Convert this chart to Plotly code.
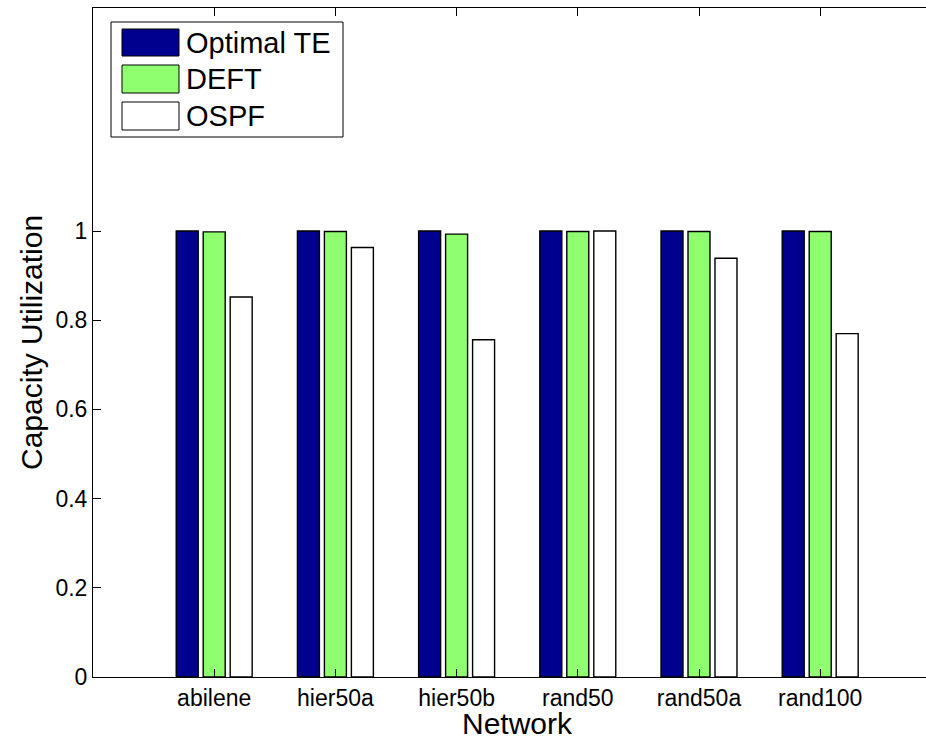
import plotly.graph_objects as go

networks = ["abilene", "hier50a", "hier50b", "rand50", "rand50a", "rand100"]
x_pos = [1, 2, 3, 4, 5, 6]
optimal_te = [1.0, 1.0, 1.0, 1.0, 1.0, 1.0]
deft = [0.998, 0.999, 0.993, 0.999, 0.999, 0.999]
ospf = [0.852, 0.963, 0.756, 1.0, 0.939, 0.770]
y_ticks = [0, 0.2, 0.4, 0.6, 0.8, 1]

series_names = ["Optimal TE", "DEFT", "OSPF"]
series_colors = ["rgb(0,0,143)", "rgb(143,255,112)", "rgb(255,255,255)"]

W, H = 926, 744
L, R, T, B = 93, 0, 8, 67
PW, PH = W - L - R, H - T - B
FONT = "Liberation Sans, Arial, Helvetica, sans-serif"

fig = go.Figure()
for name, vals, col in zip(series_names, [optimal_te, deft, ospf], series_colors):
    fig.add_trace(go.Bar(
        x=x_pos, y=vals, name=name, marker=dict(color=col, line=dict(color="black", width=1.4)),
        showlegend=False, hoverinfo="skip",
    ))

def px(xp):
    return (xp - L) / PW

def py(yp):
    return (H - B - yp) / PH

shapes = []
annotations = []
# legend box
shapes.append(dict(type="rect", xref="paper", yref="paper",
                   x0=px(111), x1=px(343), y0=py(137), y1=py(22),
                   line=dict(color="black", width=1), fillcolor="white", layer="above"))
sw_tops = [29, 65, 102]
sw_bottoms = [56, 93, 130]
for name, col, t0, b0 in zip(series_names, series_colors, sw_tops, sw_bottoms):
    shapes.append(dict(type="rect", xref="paper", yref="paper",
                       x0=px(122), x1=px(179), y0=py(b0), y1=py(t0),
                       line=dict(color="black", width=1), fillcolor=col, layer="above"))
    annotations.append(dict(text=name, xref="paper", yref="paper",
                            x=px(184), y=py((t0 + b0) / 2), xanchor="left", yanchor="middle",
                            showarrow=False, font=dict(family=FONT, size=29, color="black")))

# axis titles
annotations.append(dict(text="Network", xref="x", yref="paper", x=3.5, y=py(723),
                        xanchor="center", yanchor="middle", showarrow=False,
                        font=dict(family=FONT, size=30, color="black")))
annotations.append(dict(text="Capacity Utilization", xref="paper", yref="paper",
                        x=px(31), y=py(343), xanchor="center", yanchor="middle",
                        textangle=-90, showarrow=False,
                        font=dict(family=FONT, size=30, color="black")))

fig.update_layout(
    width=W, height=H,
    margin=dict(l=L, r=R, t=T, b=B, pad=0),
    plot_bgcolor="white", paper_bgcolor="white",
    barmode="group", bargap=0.332, bargroupgap=0.185,
    font=dict(family=FONT, size=22, color="black"),
    shapes=shapes, annotations=annotations,
    showlegend=False, hovermode=False,
)
fig.update_xaxes(
    range=[0, PW / 121.2], tickmode="array", tickvals=x_pos, ticktext=networks,
    ticks="inside", ticklen=8, tickcolor="black", showline=True, linecolor="black",
    linewidth=1, mirror="ticks", showgrid=False, zeroline=False,
    tickfont=dict(family=FONT, size=23, color="black"),
)
fig.update_yaxes(
    range=[0, 1.5], tickmode="array", tickvals=y_ticks,
    ticktext=["0", "0.2", "0.4", "0.6", "0.8", "1"],
    ticks="inside", ticklen=8, tickcolor="black", showline=True, linecolor="black",
    linewidth=1, mirror=False, showgrid=False, zeroline=False,
    tickfont=dict(family=FONT, size=23, color="black"),
)

fig.write_html(
    "out.html",
    config={"displayModeBar": False},
    post_script=("document.documentElement.style.overflow='hidden';"
                 "document.body.style.margin='0px';document.body.style.overflow='hidden';"),
)
